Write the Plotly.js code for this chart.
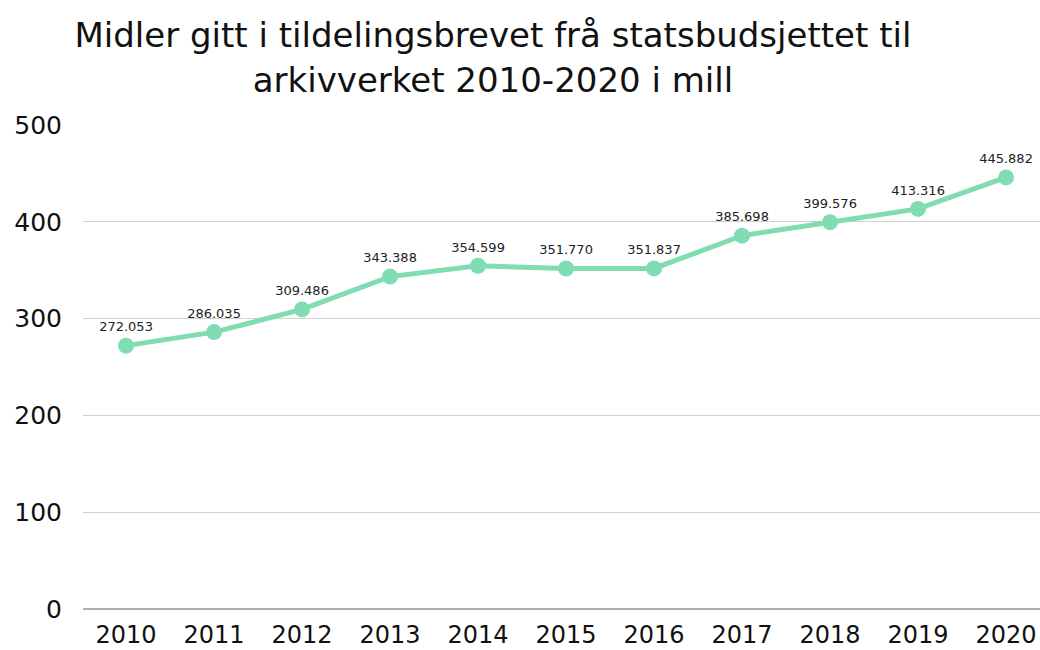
<!DOCTYPE html>
<html>
<head>
<meta charset="utf-8">
<script src="https://cdn.plot.ly/plotly-3.0.1.min.js"></script>
<style>html,body{margin:0;padding:0;background:#fff;}#chart{width:1040px;height:650px;}</style>
</head>
<body>
<div id="chart"></div>
<script>
const years = [2010, 2011, 2012, 2013, 2014, 2015, 2016, 2017, 2018, 2019, 2020];
const values = [272.053, 286.035, 309.486, 343.388, 354.599, 351.770, 351.837, 385.698, 399.576, 413.316, 445.882];
const labels = ["272.053", "286.035", "309.486", "343.388", "354.599", "351.770", "351.837", "385.698", "399.576", "413.316", "445.882"];
const yTicks = [0, 100, 200, 300, 400, 500];

const FONT = 'DejaVu Sans, sans-serif';

const trace = {
  x: years,
  y: values,
  type: 'scatter',
  mode: 'lines+markers+text',
  text: labels,
  textposition: 'top center',
  textfont: {family: FONT, size: 13, color: '#222'},
  line: {color: '#80ddb1', width: 5},
  marker: {color: '#80ddb1', size: 16},
  cliponaxis: false,
  hoverinfo: 'x+y'
};

const layout = {
  width: 1040,
  height: 650,
  margin: {l: 83, r: 0, t: 125, b: 41},
  paper_bgcolor: '#ffffff',
  plot_bgcolor: '#ffffff',
  showlegend: false,
  title: {
    text: 'Midler gitt i tildelingsbrevet frå statsbudsjettet til<br>arkivverket 2010-2020 i mill',
    font: {family: FONT, size: 34, color: '#111'},
    x: 0.474, xanchor: 'center',
    xref: 'container', yref: 'container',
    y: 0.927, yanchor: 'top'
  },
  xaxis: {
    type: 'linear',
    range: [2009.511, 2020.386],
    tickvals: years,
    ticktext: years.map(String),
    showgrid: false,
    zeroline: false,
    showline: false,
    ticks: '',
    ticklabelstandoff: 9,
    tickfont: {family: FONT, size: 24, color: '#111'}
  },
  yaxis: {
    range: [0, 500],
    tickvals: yTicks,
    ticktext: yTicks.map(String),
    showgrid: true,
    gridcolor: '#d0d0d0',
    gridwidth: 1.3,
    zeroline: true,
    zerolinecolor: '#b0b0b0',
    zerolinewidth: 2,
    showline: false,
    ticks: '',
    ticklabelstandoff: 20,
    tickfont: {family: FONT, size: 25, color: '#111'}
  }
};

Plotly.newPlot('chart', [trace], layout, {displayModeBar: false, staticPlot: true});
</script>
</body>
</html>
